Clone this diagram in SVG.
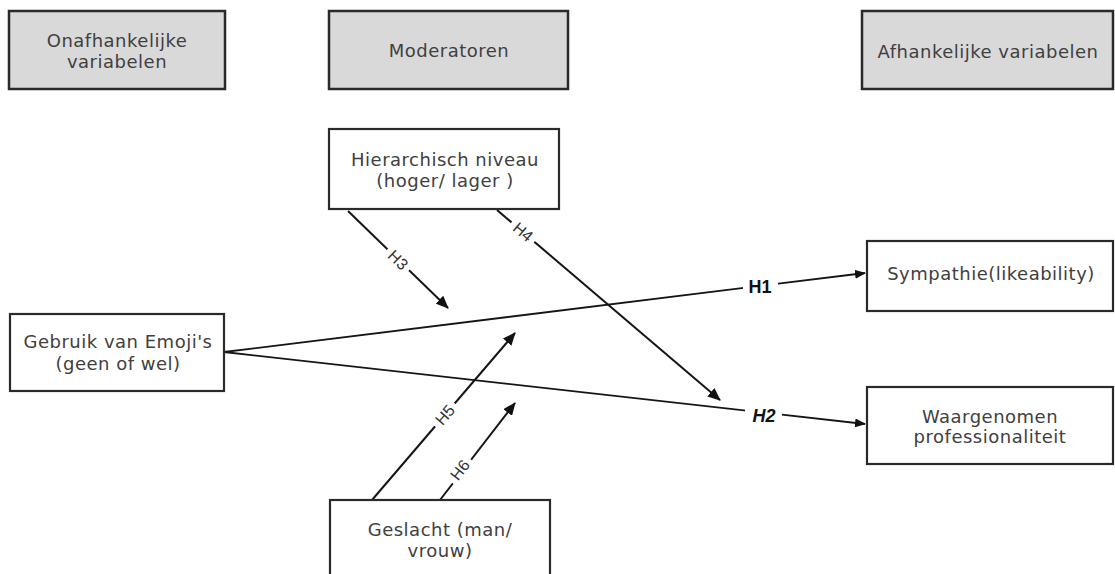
<svg xmlns="http://www.w3.org/2000/svg" width="1115" height="574" viewBox="0 0 1115 574">
<style>
.hdr{fill:#d9d9d9;stroke:#2a2a2a;stroke-width:2.5}
.box{fill:#ffffff;stroke:#2a2a2a;stroke-width:2.2}
.t{font-family:"DejaVu Sans",sans-serif;font-size:18px;letter-spacing:0.5px;fill:#404040;text-anchor:middle}
.ln{stroke:#151515;stroke-width:2;fill:none}
.lm{stroke:#151515;stroke-width:1.8;fill:none}
.lbl{font-family:"Liberation Sans",Arial,sans-serif;font-size:16px;fill:#333;text-anchor:middle;dominant-baseline:central}
.lb{font-family:"Liberation Sans",Arial,sans-serif;font-size:18px;font-weight:bold;fill:#111;text-anchor:middle;dominant-baseline:central}
</style>
<defs>
<marker id="ah" markerUnits="userSpaceOnUse" markerWidth="13" markerHeight="11" refX="12" refY="5.5" orient="auto">
<path d="M0,0 L13,5.5 L0,11 z" fill="#111"/>
</marker>
<marker id="as" markerUnits="userSpaceOnUse" markerWidth="11" markerHeight="9" refX="10" refY="4.5" orient="auto">
<path d="M0,0 L11,4.5 L0,9 z" fill="#111"/>
</marker>
</defs>
<rect width="1115" height="574" fill="#ffffff"/>

<g id="connectors">
<line class="lm" x1="224" y1="352" x2="865" y2="273" marker-end="url(#as)"/>
<line class="lm" x1="224" y1="352" x2="865" y2="424" marker-end="url(#as)"/>
<line class="ln" x1="348" y1="211" x2="448" y2="308" marker-end="url(#ah)"/>
<line class="ln" x1="497" y1="210" x2="720" y2="400" marker-end="url(#ah)"/>
<line class="ln" x1="372" y1="500" x2="515" y2="333" marker-end="url(#ah)"/>
<line class="ln" x1="440" y1="500" x2="515" y2="403" marker-end="url(#ah)"/>
<rect x="743" y="276" width="35" height="20" fill="#ffffff"/>
<text class="lb" x="760" y="287">H1</text>
<rect x="745" y="405" width="37" height="20" fill="#ffffff"/>
<text class="lb" x="764" y="416" font-style="italic">H2</text>
<g transform="translate(398,260) rotate(44)"><rect x="-15" y="-9" width="30" height="18" fill="#ffffff"/><text class="lbl" x="0" y="0">H3</text></g>
<g transform="translate(523,232) rotate(40)"><rect x="-15" y="-9" width="30" height="18" fill="#ffffff"/><text class="lbl" x="0" y="0">H4</text></g>
<g transform="translate(445,415) rotate(-49)"><rect x="-15" y="-9" width="30" height="18" fill="#ffffff"/><text class="lbl" x="0" y="0">H5</text></g>
<g transform="translate(460,470) rotate(-52)"><rect x="-15" y="-9" width="30" height="18" fill="#ffffff"/><text class="lbl" x="0" y="0">H6</text></g>
</g>

<g id="hdr-onafhankelijk">
<rect class="hdr" x="9" y="11" width="216" height="78"/>
<text class="t" x="117" y="47">Onafhankelijke</text>
<text class="t" x="117" y="68">variabelen</text>
</g>
<g id="hdr-moderatoren">
<rect class="hdr" x="329" y="11" width="239" height="78"/>
<text class="t" x="449" y="57">Moderatoren</text>
</g>
<g id="hdr-afhankelijk">
<rect class="hdr" x="862" y="11" width="251" height="78"/>
<text class="t" x="988" y="58">Afhankelijke variabelen</text>
</g>
<g id="hierarchisch">
<rect class="box" x="329" y="129" width="230" height="80"/>
<text class="t" x="445" y="166">Hierarchisch niveau</text>
<text class="t" x="445" y="187">(hoger/ lager )</text>
</g>
<g id="gebruik">
<rect class="box" x="10" y="314" width="214" height="77"/>
<text class="t" x="118" y="348">Gebruik van Emoji's</text>
<text class="t" x="118" y="370">(geen of wel)</text>
</g>
<g id="sympathie">
<rect class="box" x="867" y="241" width="246" height="70"/>
<text class="t" x="991" y="280">Sympathie(likeability)</text>
</g>
<g id="professionaliteit">
<rect class="box" x="867" y="387" width="246" height="77"/>
<text class="t" x="990" y="423">Waargenomen</text>
<text class="t" x="990" y="443">professionaliteit</text>
</g>
<g id="geslacht">
<rect class="box" x="330" y="500" width="220" height="90"/>
<text class="t" x="440" y="536">Geslacht (man/</text>
<text class="t" x="440" y="557">vrouw)</text>
</g>
</svg>
